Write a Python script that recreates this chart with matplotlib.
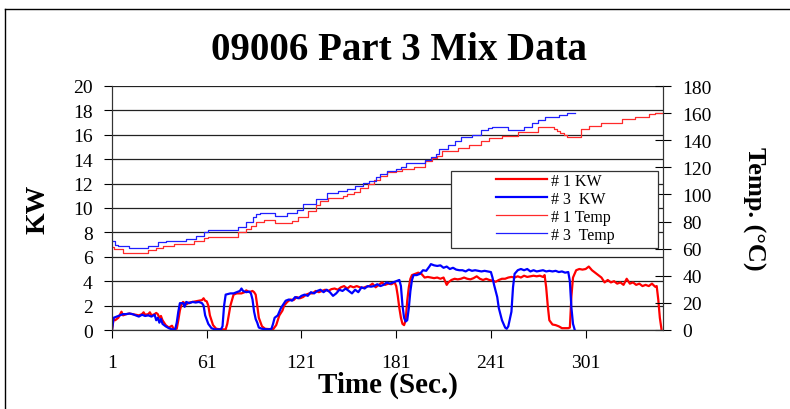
import matplotlib
matplotlib.use('Agg')
import matplotlib.pyplot as plt
from matplotlib.lines import Line2D
from matplotlib.patches import Rectangle

plt.rcParams['font.family'] = ['Liberation Serif', 'DejaVu Serif']

# #1 KW (time in sec, kw)
t_kw1 = [1, 2, 3, 5, 7, 8, 10, 12, 14, 16, 18, 20, 21, 22, 24, 25, 26, 28, 29, 30,
         31, 32, 33, 34, 35, 37, 39, 40, 42, 43, 44, 45, 46, 48, 50, 52, 54, 56, 58, 59,
         60, 61, 62, 63, 65, 67, 70, 73, 74, 76, 78, 80, 83, 85, 86, 88, 90, 91, 92, 93,
         94, 96, 98, 103, 105, 107, 109, 110, 112, 114, 116, 118, 120, 122, 124, 126, 128, 130, 132, 134,
         136, 138, 140, 142, 144, 146, 148, 150, 152, 154, 156, 158, 160, 162, 164, 166, 168, 170, 172, 174,
         176, 178, 180, 181, 182, 183, 184, 185, 186, 187, 188, 189, 190, 191, 193, 195, 197, 199, 201, 203,
         205, 207, 209, 211, 213, 214, 216, 218, 220, 222, 224, 226, 228, 230, 232, 234, 236, 238, 240, 242,
         244, 246, 248, 250, 252, 254, 256, 258, 260, 262, 264, 266, 268, 270, 272, 274, 275, 276, 277, 278,
         280, 282, 284, 286, 288, 290, 291, 292, 293, 295, 297, 299, 301, 303, 305, 307, 309, 311, 313, 315,
         317, 319, 321, 323, 325, 327, 329, 331, 333, 335, 337, 339, 341, 343, 345, 346, 347, 348, 349]
kw1 = [0, 0.9, 0.8, 1.0, 1.5, 1.2, 1.3, 1.35, 1.3, 1.25, 1.2, 1.3, 1.45, 1.25, 1.3, 1.45, 1.2, 1.3, 1.4, 1.3,
       1.0, 1.15, 0.8, 0.6, 0.4, 0.2, 0.35, 0.1, 0.1, 0.8, 1.6, 2.1, 2.3, 2.1, 2.25, 2.3, 2.35, 2.4, 2.45, 2.6,
       2.4, 2.35, 2.0, 1.2, 0.4, 0.1, 0.05, 0.05, 0.5, 2.0, 2.9, 3.0, 3.0, 3.1, 3.25, 3.1, 3.2, 3.1, 2.9, 2.0,
       1.0, 0.3, 0.1, 0.05, 0.4, 1.2, 1.6, 2.0, 2.3, 2.5, 2.45, 2.7, 2.6, 2.7, 2.9, 3.0, 3.0, 3.2, 3.1, 3.2,
       3.3, 3.2, 3.35, 3.4, 3.3, 3.5, 3.6, 3.4, 3.6, 3.5, 3.6, 3.5, 3.45, 3.55, 3.6, 3.8, 3.5, 3.7, 3.9, 3.7,
       3.8, 3.75, 3.9, 3.6, 2.8, 1.8, 1.0, 0.5, 0.4, 0.8, 2.4, 3.5, 4.2, 4.5, 4.6, 4.7, 4.6, 4.3, 4.35, 4.3,
       4.25, 4.3, 4.2, 4.3, 3.7, 3.9, 4.1, 4.2, 4.15, 4.2, 4.3, 4.2, 4.15, 4.25, 4.4, 4.2, 4.1, 4.2, 4.1, 4.05,
       3.95, 4.1, 4.2, 4.2, 4.3, 4.35, 4.3, 4.4, 4.3, 4.45, 4.35, 4.4, 4.45, 4.4, 4.45, 4.35, 4.5, 3.5, 2.0, 0.8,
       0.45, 0.4, 0.3, 0.15, 0.15, 0.15, 0.2, 2.8, 4.3, 4.9, 5.0, 4.95, 5.0, 5.2, 4.9, 4.7, 4.5, 4.3, 3.9, 4.1,
       3.9, 4.0, 3.8, 3.9, 3.7, 4.2, 3.8, 3.9, 3.7, 3.8, 3.6, 3.7, 3.6, 3.8, 3.55, 3.6, 2.5, 1.0, 0.1]

# #3 KW
t_kw3 = [1, 2, 4, 6, 8, 10, 12, 14, 16, 18, 20, 22, 24, 26, 28, 29, 30, 31, 32, 33,
         35, 37, 39, 41, 42, 43, 44, 46, 47, 48, 50, 52, 54, 56, 58, 59, 60, 62, 64, 66,
         70, 71, 72, 73, 76, 78, 80, 82, 83, 84, 86, 88, 89, 90, 91, 92, 93, 94, 96, 100,
         102, 103, 104, 106, 108, 109, 111, 113, 115, 117, 119, 121, 123, 125, 127, 129, 131, 133, 135, 137,
         139, 141, 143, 145, 147, 149, 151, 153, 155, 157, 159, 161, 163, 165, 167, 169, 171, 173, 175, 177,
         179, 181, 183, 184, 185, 186, 187, 188, 189, 190, 191, 192, 194, 196, 198, 200, 202, 203, 205, 207,
         209, 211, 213, 215, 217, 219, 221, 223, 225, 227, 229, 231, 233, 235, 237, 239, 241, 242, 243, 245,
         246, 248, 250, 251, 252, 254, 255, 256, 258, 260, 262, 264, 266, 268, 270, 272, 274, 276, 278, 280,
         282, 284, 286, 288, 290, 291, 292, 293, 294]
kw3 = [0, 1.0, 1.1, 1.2, 1.3, 1.3, 1.35, 1.3, 1.2, 1.1, 1.25, 1.15, 1.2, 1.1, 1.25, 0.8, 1.0, 0.6, 0.9, 0.5,
       0.3, 0.15, 0.05, 0.05, 0.6, 1.5, 2.2, 2.2, 1.9, 2.3, 2.2, 2.3, 2.25, 2.3, 2.2, 2.0, 1.2, 0.5, 0.15, 0.05,
       0.05, 0.3, 2.0, 2.9, 3.0, 3.0, 3.1, 3.2, 3.4, 3.2, 3.1, 3.15, 3.0, 2.5, 1.5, 0.9, 0.6, 0.2, 0.1, 0.05,
       0.1, 0.5, 1.0, 1.2, 1.8, 2.0, 2.4, 2.5, 2.4, 2.7, 2.6, 2.8, 2.9, 2.8, 3.1, 3.0, 3.2, 3.3, 3.1, 3.3,
       3.1, 2.8, 3.0, 3.3, 3.2, 3.4, 3.2, 3.0, 3.3, 3.1, 3.5, 3.4, 3.6, 3.55, 3.6, 3.75, 3.6, 3.7, 3.9, 3.8,
       3.9, 4.0, 4.1, 3.6, 2.0, 1.0, 0.7, 0.8, 1.8, 3.2, 4.1, 4.5, 4.5, 4.6, 4.9, 4.85, 5.2, 5.4, 5.3, 5.25,
       5.3, 5.1, 5.2, 5.0, 5.1, 4.95, 4.9, 4.9, 4.8, 4.95, 4.85, 4.9, 4.85, 4.8, 4.85, 4.8, 4.75, 4.3, 3.7, 2.7,
       1.8, 0.8, 0.2, 0.1, 0.3, 1.5, 3.5, 4.6, 4.9, 5.0, 4.9, 5.0, 4.8, 4.9, 4.8, 4.85, 4.9, 4.8, 4.85, 4.8,
       4.85, 4.75, 4.8, 4.7, 4.75, 4.0, 1.8, 0.5, 0.05]

# #1 Temp (degC), step values
t_temp1 = [1, 2, 8, 24, 29, 33, 40, 53, 59, 62, 81, 86, 89, 92, 97, 104, 115, 119, 125, 130,
           133, 138, 147, 150, 154, 158, 163, 167, 171, 175, 181, 185, 192, 199, 204, 207, 210, 220, 227, 235,
           240, 248, 258, 265, 271, 281, 283, 285, 287, 289, 298, 303, 311, 324, 332, 341, 345, 350]
temp1 = [61, 59.8, 56.8, 59, 60.2, 61.7, 63.4, 65.9, 67.6, 68.8, 72, 74.5, 76.5, 79.4, 81.1, 78.7, 80.5, 83.1, 88, 92,
         94.8, 97.4, 98.5, 100, 102, 105, 108, 111, 113.8, 116.3, 117.5, 118.8, 120.6, 124.9, 127, 128.6, 131.7, 134.3, 136.5, 139.5,
         141.3, 143.3, 146, 145.8, 149.8, 148.5, 147, 145.3, 143.5, 142.4, 148.3, 150.7, 152.5, 155.7, 156.9, 159.3, 159.9, 159.9]

# #3 Temp
t_temp3 = [1, 3, 5, 12, 24, 30, 35, 48, 54, 59, 62, 81, 86, 90, 92, 95, 104, 112, 118, 122,
           130, 137, 144, 150, 155, 160, 164, 168, 171, 175, 181, 184, 187, 199, 203, 206, 208, 214, 218, 222,
           229, 235, 239, 242, 252, 262, 267, 271, 275, 284, 289, 294]
temp3 = [65.9, 63, 61.7, 60.5, 61.7, 64.7, 65.9, 67.5, 69.6, 72, 73.8, 75.8, 79.4, 83, 85.6, 86.3, 83.9, 86.3, 88.7, 93,
         96.6, 101, 102.5, 104, 106.5, 108.5, 110.2, 112.6, 115.1, 117.5, 119, 120.5, 123, 125.4, 127.5, 129.8, 133.5, 136.5, 139.4, 142.2,
         144, 147.5, 149, 150, 147.5, 149.5, 152.5, 154.9, 156.9, 158.6, 159.8, 159.8]

x_ticks = [1, 61, 121, 181, 241, 301]
labels = ['# 1 KW', '# 3  KW', '# 1 Temp', '# 3  Temp']

fig = plt.figure(figsize=(7.9, 4.1), dpi=100)
ax = fig.add_axes([112/790, 1-331/410, 551/790, 244/410])
ax2 = ax.twinx()

l1, = ax.plot(t_kw1, kw1, color='#ff0000', lw=1.6, zorder=3)
l2, = ax.plot(t_kw3, kw3, color='#0000ff', lw=1.6, zorder=4)
l3, = ax2.plot(t_temp1, temp1, color='#ff2a2a', lw=0.9, drawstyle='steps-post')
l4, = ax2.plot(t_temp3, temp3, color='#1f1fff', lw=0.9, drawstyle='steps-post')

ax.set_xlim(1, 350)
ax.set_ylim(0, 20)
ax2.set_ylim(0, 180)
ax.set_xticks(x_ticks)
ax.set_yticks(range(0, 21, 2))
ax2.set_yticks(range(0, 181, 20))
ax.yaxis.grid(True, color='#222222', lw=0.9)
ax.set_axisbelow(True)

for a in (ax, ax2):
    a.spines['top'].set_visible(False)
    a.spines['left'].set_color('#333333')
    a.spines['right'].set_color('#333333')
    a.spines['bottom'].set_color('#333333')
ax.tick_params(axis='y', direction='out', length=6, pad=8, labelsize=14)
ax.tick_params(axis='x', direction='out', length=6, pad=11, labelsize=14)
ax2.tick_params(axis='y', direction='inout', length=12, pad=8, labelsize=14)

ax.set_xlabel('Time (Sec.)', fontsize=21, fontweight='bold', labelpad=0)
ax.set_ylabel('KW', fontsize=20, fontweight='bold', labelpad=16)
ax2.set_ylabel('Temp. (°C)', fontsize=19, fontweight='bold', rotation=-90, labelpad=38)
fig.text(0.505, 1-51/410, '09006 Part 3 Mix Data', ha='center', va='center',
         fontsize=28, fontweight='bold')

box = Rectangle((0.615, 0.336), 0.376, 0.316, transform=ax.transAxes,
                facecolor='white', edgecolor='#333333', lw=0.9, zorder=5)
ax2.add_patch(box)
leg = ax2.legend([l1, l2, l3, l4], labels, loc='upper left',
                 bbox_to_anchor=((496-112)/551, (331-174)/244), frameon=False,
                 fontsize=11.5, handlelength=3.2, handletextpad=0.25,
                 labelspacing=0.12, borderpad=0, borderaxespad=0)
leg.set_zorder(6)

# outer frame
fig.add_artist(Line2D([5/790, 1], [1-10/410, 1-10/410], color='black', lw=1))
fig.add_artist(Line2D([5/790, 5/790], [0, 1-10/410], color='black', lw=1))

fig.savefig('out.png', dpi=100)
